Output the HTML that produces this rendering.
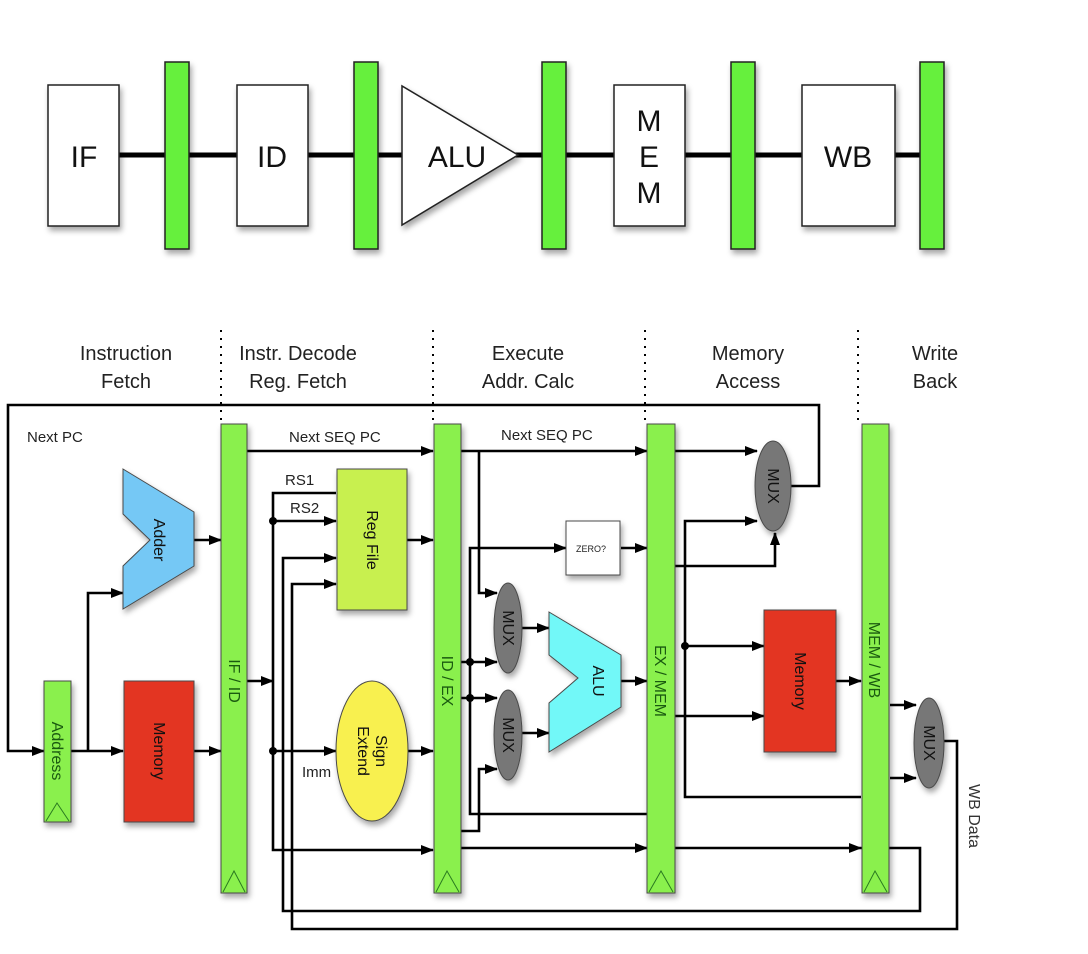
<!DOCTYPE html>
<html><head><meta charset="utf-8"><style>
html,body{margin:0;padding:0;background:#fff;}
svg{display:block;font-family:"Liberation Sans",sans-serif;}
</style></head><body>
<svg width="1088" height="954" viewBox="0 0 1088 954" xmlns="http://www.w3.org/2000/svg">
<defs>
<filter id="sh" x="-20%" y="-20%" width="150%" height="150%"><feDropShadow dx="2" dy="4" stdDeviation="3" flood-color="#000" flood-opacity="0.35"/></filter>
<marker id="ar" markerWidth="13" markerHeight="12" refX="12" refY="6" orient="auto" markerUnits="userSpaceOnUse"><path d="M0,1 L13,6 L0,11 z" fill="#000"/></marker>
</defs>
<!-- TOP -->
<line x1="119" y1="155" x2="944" y2="155" stroke="#000" stroke-width="5"/>
<g filter="url(#sh)" stroke="#222" stroke-width="1.5">
<rect x="48" y="85" width="71" height="141" fill="#fff"/>
<rect x="237" y="85" width="71" height="141" fill="#fff"/>
<polygon points="402,86 402,225 518,155" fill="#fff"/>
<rect x="614" y="85" width="71" height="141" fill="#fff"/>
<rect x="802" y="85" width="93" height="141" fill="#fff"/>
<rect x="165" y="62" width="24" height="187" fill="#66f03c"/>
<rect x="354" y="62" width="24" height="187" fill="#66f03c"/>
<rect x="542" y="62" width="24" height="187" fill="#66f03c"/>
<rect x="731" y="62" width="24" height="187" fill="#66f03c"/>
<rect x="920" y="62" width="24" height="187" fill="#66f03c"/>
</g>
<g font-size="30" fill="#111" text-anchor="middle">
<text x="84" y="167">IF</text>
<text x="272" y="167">ID</text>
<text x="457" y="167">ALU</text>
<text x="649" y="131">M</text>
<text x="649" y="167">E</text>
<text x="649" y="203">M</text>
<text x="848" y="167">WB</text>
</g>
<!-- headers -->
<g font-size="20" fill="#222" text-anchor="middle">
<text x="126" y="360">Instruction</text><text x="126" y="388">Fetch</text>
<text x="298" y="360">Instr. Decode</text><text x="298" y="388">Reg. Fetch</text>
<text x="528" y="360">Execute</text><text x="528" y="388">Addr. Calc</text>
<text x="748" y="360">Memory</text><text x="748" y="388">Access</text>
<text x="935" y="360">Write</text><text x="935" y="388">Back</text>
</g>
<g stroke="#000" stroke-width="2" stroke-dasharray="2,6">
<line x1="221" y1="330" x2="221" y2="424"/>
<line x1="433" y1="330" x2="433" y2="424"/>
<line x1="645" y1="330" x2="645" y2="424"/>
<line x1="858" y1="330" x2="858" y2="424"/>
</g>
<!-- wires -->
<g stroke="#000" stroke-width="2.6" fill="none">
<polyline points="775,486 819,486 819,405 8,405 8,751 44,751" marker-end="url(#ar)"/>
<polyline points="71,751 123,751" marker-end="url(#ar)"/>
<polyline points="88,751 88,593 123,593" marker-end="url(#ar)"/>
<line x1="194" y1="540" x2="221" y2="540" marker-end="url(#ar)"/>
<line x1="194" y1="751" x2="221" y2="751" marker-end="url(#ar)"/>
<line x1="247" y1="451" x2="433" y2="451" marker-end="url(#ar)"/>
<line x1="247" y1="681" x2="273" y2="681" marker-end="url(#ar)"/>
<polyline points="336,493 273,493 273,850 433,850" marker-end="url(#ar)"/>
<line x1="273" y1="521" x2="336" y2="521" marker-end="url(#ar)"/>
<line x1="273" y1="751" x2="336" y2="751" marker-end="url(#ar)"/>
<polyline points="861,848 920,848 920,911 283,911 283,558 336,558" marker-end="url(#ar)"/>
<polyline points="943,741 957,741 957,929 292,929 292,584 336,584" marker-end="url(#ar)"/>
<line x1="407" y1="540" x2="433" y2="540" marker-end="url(#ar)"/>
<line x1="408" y1="751" x2="433" y2="751" marker-end="url(#ar)"/>
<line x1="461" y1="451" x2="647" y2="451" marker-end="url(#ar)"/>
<polyline points="479,451 479,593 497,593" marker-end="url(#ar)"/>
<polyline points="647,814 470,814 470,548 566,548" marker-end="url(#ar)"/>
<line x1="621" y1="548" x2="647" y2="548" marker-end="url(#ar)"/>
<line x1="461" y1="662" x2="497" y2="662" marker-end="url(#ar)"/>
<line x1="461" y1="698" x2="497" y2="698" marker-end="url(#ar)"/>
<polyline points="461,831 479,831 479,769 497,769" marker-end="url(#ar)"/>
<line x1="522" y1="628" x2="549" y2="628" marker-end="url(#ar)"/>
<line x1="522" y1="733" x2="549" y2="733" marker-end="url(#ar)"/>
<line x1="621" y1="681" x2="647" y2="681" marker-end="url(#ar)"/>
<line x1="461" y1="848" x2="647" y2="848" marker-end="url(#ar)"/>
<line x1="675" y1="848" x2="861" y2="848" marker-end="url(#ar)"/>
<line x1="675" y1="451" x2="757" y2="451" marker-end="url(#ar)"/>
<polyline points="861,797 685,797 685,521 757,521" marker-end="url(#ar)"/>
<line x1="685" y1="646" x2="764" y2="646" marker-end="url(#ar)"/>
<polyline points="675,566 775,566 775,533" marker-end="url(#ar)"/>
<line x1="675" y1="716" x2="764" y2="716" marker-end="url(#ar)"/>
<line x1="836" y1="681" x2="861" y2="681" marker-end="url(#ar)"/>
<line x1="890" y1="705" x2="916" y2="705" marker-end="url(#ar)"/>
<line x1="890" y1="778" x2="916" y2="778" marker-end="url(#ar)"/>
</g>
<g fill="#000">
<circle cx="273" cy="521" r="4"/><circle cx="273" cy="751" r="4"/>
<circle cx="470" cy="662" r="4"/><circle cx="470" cy="698" r="4"/>
<circle cx="685" cy="646" r="4"/>
</g>
<!-- components -->
<g filter="url(#sh)" stroke="#4a4a4a" stroke-width="1">
<rect x="221" y="424" width="26" height="469" fill="#8af04e"/>
<rect x="434" y="424" width="27" height="469" fill="#8af04e"/>
<rect x="647" y="424" width="28" height="469" fill="#8af04e"/>
<rect x="862" y="424" width="27" height="469" fill="#8af04e"/>
<rect x="44" y="681" width="27" height="141" fill="#8af04e"/>
<polygon points="123,469 194,512 194,566 123,609 123,566 150,540 123,514" fill="#75c8f5"/>
<rect x="124" y="681" width="70" height="141" fill="#e33523"/>
<rect x="337" y="469" width="70" height="141" fill="#c8f050"/>
<ellipse cx="372" cy="751" rx="36" ry="70" fill="#f8f04f"/>
<rect x="566" y="521" width="54" height="54" fill="#fff"/>
<ellipse cx="508" cy="628" rx="14" ry="45" fill="#777"/>
<ellipse cx="508" cy="735" rx="14" ry="45" fill="#777"/>
<polygon points="549,612 621,655 621,707 549,752 549,703 578,678 549,655" fill="#72f8f8"/>
<ellipse cx="773" cy="486" rx="18" ry="45" fill="#777"/>
<rect x="764" y="610" width="72" height="142" fill="#e33523"/>
<ellipse cx="929" cy="743" rx="15" ry="45" fill="#777"/>
</g>
<g stroke="#2a7a20" stroke-width="1" fill="none">
<polyline points="223,892 234,871 245,892"/>
<polyline points="436,892 447,871 459,892"/>
<polyline points="649,892 661,871 673,892"/>
<polyline points="864,892 875,871 887,892"/>
<polyline points="46,821 57,803 69,821"/>
</g>
<!-- labels -->
<g font-size="15" fill="#222">
<text x="27" y="442">Next PC</text>
<text x="289" y="442">Next SEQ PC</text>
<text x="501" y="440">Next SEQ PC</text>
<text x="285" y="485">RS1</text>
<text x="290" y="513">RS2</text>
<text x="302" y="777">Imm</text>
<text x="576" y="552" font-size="9">ZERO?</text>
</g>
<g font-size="16" fill="#111" text-anchor="middle">
<text transform="translate(229,681) rotate(90)" fill="#1a5a10">IF / ID</text>
<text transform="translate(442,681) rotate(90)" fill="#1a5a10">ID / EX</text>
<text transform="translate(655,681) rotate(90)" fill="#1a5a10">EX / MEM</text>
<text transform="translate(869,660) rotate(90)" fill="#1a5a10">MEM / WB</text>
<text transform="translate(52,751) rotate(90)" fill="#1a5a10">Address</text>
<text transform="translate(154,540) rotate(90)">Adder</text>
<text transform="translate(154,751) rotate(90)">Memory</text>
<text transform="translate(367,540) rotate(90)">Reg File</text>
<text transform="translate(376,751) rotate(90)">Sign</text>
<text transform="translate(358,751) rotate(90)">Extend</text>
<text transform="translate(503,628) rotate(90)">MUX</text>
<text transform="translate(503,735) rotate(90)">MUX</text>
<text transform="translate(593,681) rotate(90)">ALU</text>
<text transform="translate(768,486) rotate(90)">MUX</text>
<text transform="translate(795,681) rotate(90)">Memory</text>
<text transform="translate(924,743) rotate(90)">MUX</text>
<text transform="translate(969,816) rotate(90)" fill="#333">WB Data</text>
</g>
</svg>
</body></html>
